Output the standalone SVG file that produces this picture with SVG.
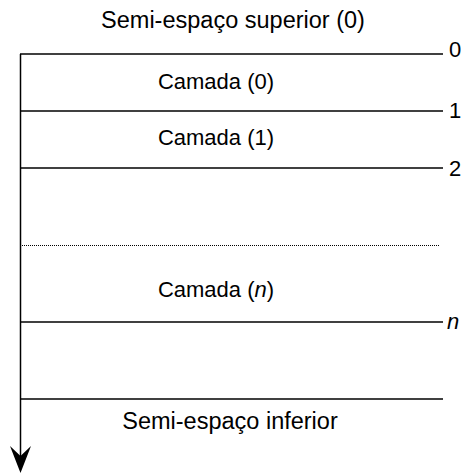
<svg xmlns="http://www.w3.org/2000/svg" width="463" height="474" viewBox="0 0 463 474">
<style>
.t{font-family:"Liberation Sans",Arial,sans-serif;font-size:22px;fill:#000}
.s{font-size:23.5px}
.ln{stroke:#000;stroke-width:1.5;fill:none}
</style>
<rect width="463" height="474" fill="#fff"/>
<g id="connectors">
<line class="ln" x1="20.5" y1="54" x2="20.5" y2="460"/>
<path d="M10,446 L20.5,456 L31,446 L20.5,473 Z" fill="#000"/>
<line class="ln" x1="20" y1="54" x2="443" y2="54"/>
<line class="ln" x1="20" y1="111" x2="443" y2="111"/>
<line class="ln" x1="20" y1="168" x2="443" y2="168"/>
<line x1="20" y1="245.5" x2="440" y2="245.5" stroke="#000" stroke-width="1" stroke-dasharray="1,1"/>
<line class="ln" x1="20" y1="322" x2="443" y2="322"/>
<line class="ln" x1="20" y1="399" x2="443" y2="399"/>
</g>
<g id="top"><text class="t s" x="233" y="28" text-anchor="middle">Semi-espaço superior (0)</text></g>
<g id="layer0"><text class="t" x="216" y="89" text-anchor="middle">Camada (0)</text></g>
<g id="layer1"><text class="t" x="216" y="145" text-anchor="middle">Camada (1)</text></g>
<g id="layern"><text class="t" x="216" y="297" text-anchor="middle">Camada (<tspan font-style="italic">n</tspan>)</text></g>
<g id="bottom"><text class="t s" x="230" y="429" text-anchor="middle">Semi-espaço inferior</text></g>
<g id="labels">
<text class="t" x="449" y="57">0</text>
<text class="t" x="449" y="118">1</text>
<text class="t" x="449" y="176">2</text>
<text class="t" x="447" y="329" font-style="italic">n</text>
</g>
</svg>
